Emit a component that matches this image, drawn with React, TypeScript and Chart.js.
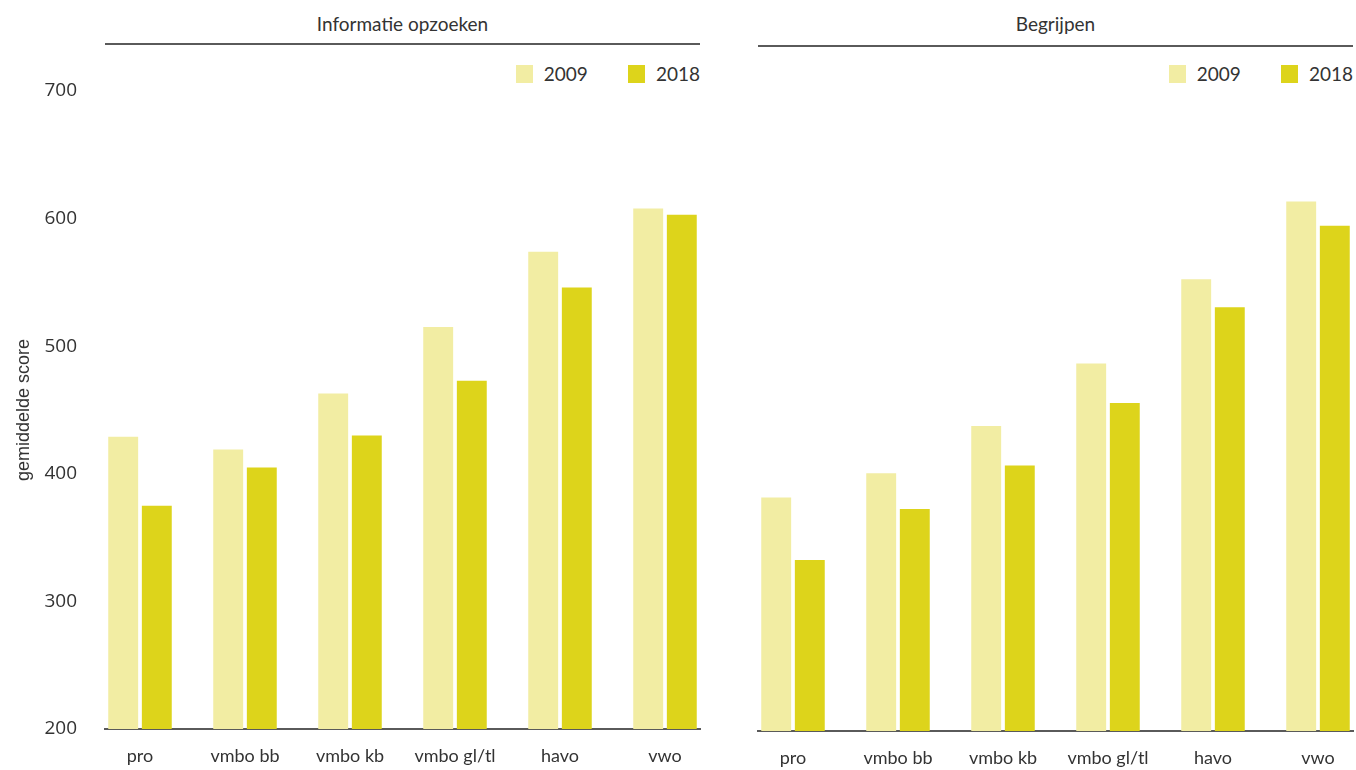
import React, { useEffect, useRef } from 'react';
import { Chart, registerables } from 'chart.js';

Chart.register(...registerables);

// ---- data ----
const categories = ['pro', 'vmbo bb', 'vmbo kb', 'vmbo gl/tl', 'havo', 'vwo'];
const seriesNames = ['2009', '2018'];
const infoScores2009 = [429, 419, 463, 515, 574, 608];
const infoScores2018 = [375, 405, 430, 473, 546, 603];
const begrScores2009 = [383, 402, 439, 488, 554, 615];
const begrScores2018 = [334, 374, 408, 457, 532, 596];
const yTickValues = [200, 300, 400, 500, 600, 700];
const panelTitles = ['Informatie opzoeken', 'Begrijpen'];
const yAxisTitle = 'gemiddelde score';

// ---- styles ----
const COLORS = ['#F2EDA3', '#DDD41B'];
const TEXT = '#333333';
const AXIS = '#5a5a5a';
const CAT_FONT = 'Lato, "Noto Sans", sans-serif';
const NUM_FONT = '"Open Sans", "Noto Sans", sans-serif';

type PanelProps = {
  title: string;
  values: number[][];
  showY: boolean;
  canvasLeft: number;
  canvasWidth: number;
  padLeft: number;
  padRight: number;
  padTop: number;
  xAxisHeight: number;
  lineTop: number;
};

function BarPanel(p: PanelProps) {
  const ref = useRef<HTMLCanvasElement | null>(null);

  useEffect(() => {
    if (!ref.current) return;
    const chart = new Chart(ref.current, {
      type: 'bar',
      data: {
        datasets: seriesNames.map((name, si) => ({
          label: name,
          data: p.values[si].map((v, i) => ({ x: i, y: v })),
          backgroundColor: COLORS[si],
          borderWidth: 0,
          categoryPercentage: 0.64,
          barPercentage: 0.89,
        })),
      },
      options: {
        animation: false,
        responsive: true,
        maintainAspectRatio: false,
        layout: { padding: { left: p.padLeft, right: p.padRight, top: p.padTop, bottom: 0 } },
        plugins: {
          legend: { display: false },
          title: { display: false },
          tooltip: { enabled: false },
        },
        scales: {
          x: {
            type: 'linear',
            offset: false,
            min: -1 / 3,
            max: categories.length - 1 + 1 / 3,
            grid: { display: false, drawTicks: false },
            border: { display: true, color: AXIS, width: 2 },
            afterBuildTicks: (scale: any) => {
              scale.ticks = categories.map((_, i) => ({ value: i }));
            },
            afterFit: (scale: any) => {
              scale.height = p.xAxisHeight;
            },
            ticks: {
              autoSkip: false,
              maxRotation: 0,
              minRotation: 0,
              padding: 16,
              color: TEXT,
              font: { family: CAT_FONT, size: 18 },
              callback: (v: any) => {
                const i = Math.round(Number(v));
                return Math.abs(Number(v) - i) < 1e-6 && categories[i] !== undefined ? categories[i] : '';
              },
            },
          },
          y: {
            display: p.showY,
            min: yTickValues[0],
            max: yTickValues[yTickValues.length - 1],
            grid: { display: false, drawTicks: false },
            border: { display: false },
            afterFit: (scale: any) => {
              if (p.showY) scale.width = 105;
            },
            title: {
              display: true,
              text: yAxisTitle,
              color: TEXT,
              font: { family: '"Liberation Sans", Arial, sans-serif', size: 18 },
              padding: { top: 13, bottom: 0 },
            },
            ticks: {
              stepSize: 100,
              padding: 28,
              color: TEXT,
              font: { family: NUM_FONT, size: 19 },
            },
          },
        },
      } as any,
    });
    return () => chart.destroy();
  }, []);

  const areaLeft = p.canvasLeft + p.padLeft + (p.showY ? 105 : 0);
  const areaRight = p.canvasLeft + p.canvasWidth - p.padRight;
  const areaW = areaRight - areaLeft;

  return (
    <>
      <div
        style={{
          position: 'absolute',
          left: areaLeft,
          width: areaW,
          top: 12,
          lineHeight: '24px',
          textAlign: 'center',
          fontFamily: CAT_FONT,
          fontSize: 19,
          color: TEXT,
        }}
      >
        {p.title}
      </div>
      <div
        style={{
          position: 'absolute',
          left: areaLeft,
          width: areaW,
          top: p.lineTop,
          height: 2,
          background: AXIS,
        }}
      />
      <div
        style={{
          position: 'absolute',
          right: 1356 - areaRight,
          top: 65,
          height: 18,
          display: 'flex',
          alignItems: 'center',
          fontFamily: CAT_FONT,
          fontSize: 19,
          color: TEXT,
        }}
      >
        {seriesNames.map((name, i) => (
          <div key={name} style={{ display: 'flex', alignItems: 'center', marginLeft: i === 0 ? 0 : 40 }}>
            <span style={{ display: 'inline-block', width: 17, height: 18, background: COLORS[i], marginRight: 11 }} />
            <span style={{ lineHeight: '18px' }}>{name}</span>
          </div>
        ))}
      </div>
      <div
        style={{
          position: 'absolute',
          left: p.canvasLeft,
          top: 0,
          width: p.canvasWidth,
          height: 770,
        }}
      >
        <canvas ref={ref} />
      </div>
    </>
  );
}

export default function App() {
  return (
    <div
      style={{
        position: 'fixed',
        left: 0,
        top: 0,
        width: 1356,
        height: 770,
        background: '#ffffff',
        overflow: 'hidden',
      }}
    >
      <BarPanel
        title={panelTitles[0]}
        values={[infoScores2009, infoScores2018]}
        showY={true}
        canvasLeft={0}
        canvasWidth={720}
        padLeft={0}
        padRight={20}
        padTop={91}
        xAxisHeight={41}
        lineTop={43}
      />
      <BarPanel
        title={panelTitles[1]}
        values={[begrScores2009, begrScores2018]}
        showY={false}
        canvasLeft={720}
        canvasWidth={636}
        padLeft={38}
        padRight={3}
        padTop={93}
        xAxisHeight={39}
        lineTop={45}
      />
    </div>
  );
}
